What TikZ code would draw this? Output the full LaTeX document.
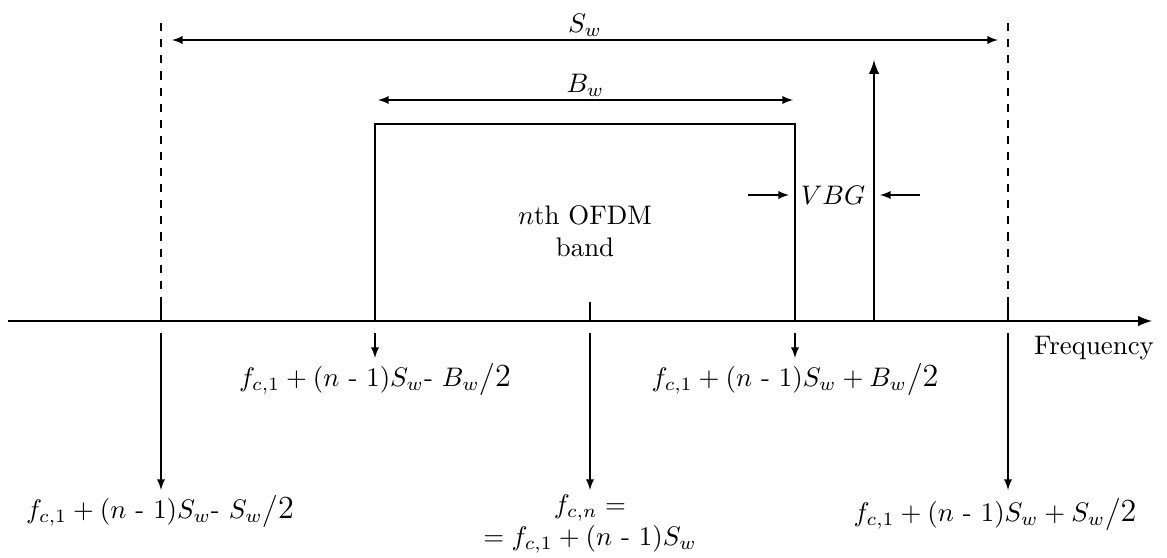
\documentclass[tikz,border=0pt]{standalone}
\usepackage{amsmath}
\usepackage{amssymb}
\usepackage{tikz}
\usepackage{xcolor}

\begin{document}
\begin{tikzpicture}[x=0.131cm,y=0.131cm,>=latex]
  \useasboundingbox (0,0) rectangle (116.7,55.7);
  % points on the frequency axis
  \coordinate (O) at (0.8,23.6);
  \coordinate (E) at (115.2,23.6);
  \coordinate (L) at (16.1,23.6);
  \coordinate (C) at (59.0,23.6);
  \coordinate (R) at (100.8,23.6);
  \coordinate (P) at (37.5,23.6);
  \coordinate (Q) at (79.5,23.6);
  \coordinate (V) at (87.4,23.6);
  \draw[thick,->] (O)--(E);
  \node at (109.4,20.9) {Frequency};
  % band
  \coordinate (PT) at (37.5,43.3);
  \coordinate (QT) at (79.5,43.3);
  \draw[thick] (P)--(PT)--(QT)--(Q);
  \node[align=center] at (58.5,32.6) {$n$th OFDM\\band};
  % guard spike
  \coordinate (VT) at (87.4,49.7);
  \draw[thick,->] (V)--(VT);
  \coordinate (G1) at (74.8,36.2);
  \coordinate (G2) at (78.9,36.2);
  \coordinate (G3) at (92.0,36.2);
  \coordinate (G4) at (88.0,36.2);
  \draw[->] (G1)--(G2);
  \draw[->] (G3)--(G4);
  \node at (83.3,36.2) {$VBG$};
  % spacing and bandwidth
  \coordinate (LT) at (16.1,53.5);
  \coordinate (RT) at (100.8,53.5);
  \draw[dashed] (L)--(LT);
  \draw[dashed] (R)--(RT);
  \coordinate (S1) at (17.2,51.7);
  \coordinate (S2) at (99.8,51.7);
  \draw[<->] (S1)--(S2) node[midway,above,inner sep=1pt] {$S_w$};
  \coordinate (B1) at (37.8,45.7);
  \coordinate (B2) at (79.3,45.7);
  \draw[<->] (B1)--(B2) node[midway,above,inner sep=1pt] {$B_w$};
  % ticks
  \draw[thick] (L)--++(0,1.9);
  \draw[thick] (C)--++(0,1.9);
  \draw[thick] (R)--++(0,1.9);
  % pointers to the labels
  \coordinate (P1) at (37.5,22.4);
  \coordinate (P2) at (37.5,19.9);
  \coordinate (Q1) at (79.5,22.4);
  \coordinate (Q2) at (79.5,19.9);
  \coordinate (L1) at (16.1,22.4);
  \coordinate (L2) at (16.1,6.7);
  \coordinate (C1) at (59.0,22.4);
  \coordinate (C2) at (59.0,6.7);
  \coordinate (R1) at (100.8,22.4);
  \coordinate (R2) at (100.8,6.7);
  \draw[->] (P1)--(P2);
  \draw[->] (Q1)--(Q2);
  \draw[->] (L1)--(L2);
  \draw[->] (C1)--(C2);
  \draw[->] (R1)--(R2);
  \node at (37.5,17.7) {$f_{c,1} + (n\text{ - }1)S_w\text{- }B_w\big/\text{\large 2}$};
  \node at (79.5,17.7) {$f_{c,1} + (n\text{ - }1)S_w+ B_w\big/\text{\large 2}$};
  \node at (16.0,4.5) {$f_{c,1} + (n\text{ - }1)S_w\text{- }S_w\big/\text{\large 2}$};
  \node at (99.5,4.2) {$f_{c,1} + (n\text{ - }1)S_w+ S_w\big/\text{\large 2}$};
  \node[align=center] at (59.0,3.3) {$f_{c,n} =$\\$= f_{c,1} + (n\text{ - }1)S_w$};
\end{tikzpicture}
\end{document}
